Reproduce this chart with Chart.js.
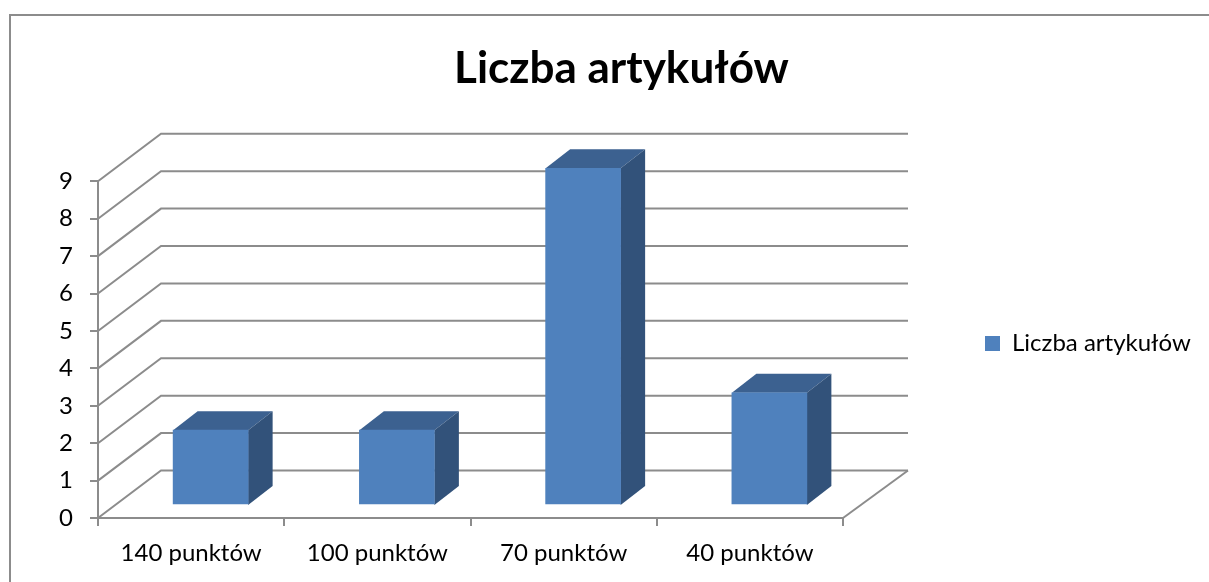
<!DOCTYPE html>
<html lang="pl">
<head>
<meta charset="utf-8">
<style>html,body{margin:0;padding:0;background:#fff}canvas{display:block}</style>
<script src="https://cdn.jsdelivr.net/npm/chart.js@4/dist/chart.umd.min.js"></script>
</head>
<body>
<canvas id="c" width="1209" height="582"></canvas>
<script>
const titleText = 'Liczba artykułów';
const seriesName = 'Liczba artykułów';
const categories = ['140 punktów', '100 punktów', '70 punktów', '40 punktów'];
const values = [2, 2, 9, 3];
const axisMax = 9;

const FONT = 'Lato, Carlito, "Open Sans", sans-serif';
const GRAY = '#8c8c8c';
const FRONT = '#4f81bd', TOP = '#3c6190', SIDE = '#32527a';

const frame3d = {
  id: 'frame3d',
  beforeLayout(chart) {
    const lg = chart.legend;
    if (lg && !lg._wrapped) {
      const fit = lg.fit;
      lg.fit = function () { fit.call(this); this.width = 366; };
      lg._wrapped = true;
    }
  },
  afterLayout(chart) {
    const lg = chart.legend;
    lg.left = 975; lg.right = 1209;
    const h = lg.bottom - lg.top;
    lg.top = 343.5 - h / 2; lg.bottom = lg.top + h;
  },
  beforeDraw(chart) {
    const c = chart.ctx;
    c.save();
    c.strokeStyle = GRAY; c.lineWidth = 2;
    c.beginPath();
    c.moveTo(10, 582); c.lineTo(10, 15); c.lineTo(1209, 15);
    c.stroke();
    c.restore();
  },
  beforeDatasetsDraw(chart) {
    const c = chart.ctx, y = chart.scales.y, a = chart.chartArea;
    c.save();
    c.strokeStyle = GRAY; c.lineWidth = 2;
    y.ticks.forEach(t => {
      const p = y.getPixelForValue(t.value);
      c.beginPath();
      c.moveTo(a.left, p);
      c.lineTo(a.left + 63, p - 47.5);
      c.lineTo(a.right + 65, p - 47.5);
      c.stroke();
    });
    const b = y.getPixelForValue(0);
    c.beginPath();
    c.moveTo(a.right, b);
    c.lineTo(a.right + 65, b - 47.5);
    c.stroke();
    c.restore();
  },
  beforeDatasetDraw(chart) {
    const c = chart.ctx, base = chart.scales.y.getPixelForValue(0);
    const dx = 24.5, dy = 19, sx = 19.5, sy = 13;
    chart.getDatasetMeta(0).data.forEach(bar => {
      const w = bar.width / 2;
      const l = bar.x - w + sx, r = bar.x + w + sx, t = bar.y - sy, u = base - sy;
      c.fillStyle = TOP;
      c.beginPath();
      c.moveTo(l, t); c.lineTo(l + dx, t - dy); c.lineTo(r + dx, t - dy); c.lineTo(r, t);
      c.closePath(); c.fill();
      c.fillStyle = SIDE;
      c.beginPath();
      c.moveTo(r, t); c.lineTo(r + dx, t - dy); c.lineTo(r + dx, u - dy); c.lineTo(r, u);
      c.closePath(); c.fill();
    });
    c.save();
    c.translate(sx, -sy);
  },
  afterDatasetDraw(chart) {
    chart.ctx.restore();
  }
};

new Chart(document.getElementById('c'), {
  type: 'bar',
  data: {
    labels: categories,
    datasets: [{
      label: seriesName,
      data: values,
      backgroundColor: FRONT,
      borderWidth: 0,
      barThickness: 75,
      clip: false
    }]
  },
  plugins: [frame3d],
  options: {
    responsive: false,
    animation: false,
    layout: { padding: { left: 34, right: 0, top: 0, bottom: 0 } },
    plugins: {
      title: {
        display: true,
        text: titleText,
        color: '#000',
        font: { family: FONT, size: 44, weight: 'bold', lineHeight: 1.2 },
        padding: { top: 42, bottom: 86.5 }
      },
      legend: {
        display: true,
        position: 'right',
        labels: {
          color: '#000',
          boxWidth: 15,
          boxHeight: 15,
          font: { family: FONT, size: 24 }
        }
      },
      tooltip: { enabled: false }
    },
    scales: {
      x: {
        afterFit(s) { s.height = 64; },
        border: { color: GRAY, width: 2 },
        grid: { drawOnChartArea: false, drawTicks: true, tickLength: 8, color: GRAY, lineWidth: 2 },
        ticks: { color: '#000', padding: 13, maxRotation: 0, font: { family: FONT, size: 24 } }
      },
      y: {
        min: 0,
        max: axisMax,
        afterFit(s) { s.width = 64; },
        border: { color: GRAY, width: 2 },
        grid: { drawOnChartArea: false, drawTicks: true, tickLength: 8, color: GRAY, lineWidth: 2 },
        ticks: { color: '#000', stepSize: 1, padding: 17, font: { family: FONT, size: 24 } }
      }
    }
  }
});
</script>
</body>
</html>
